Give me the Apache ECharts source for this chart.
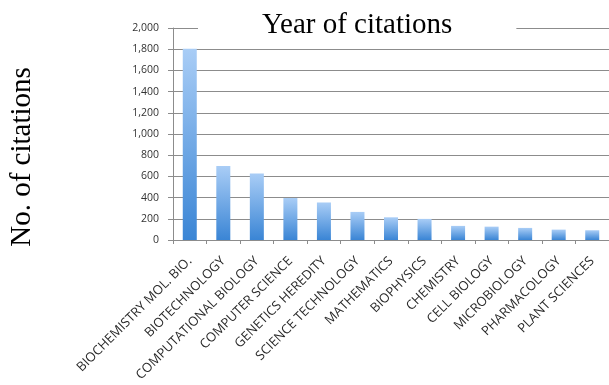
<!DOCTYPE html>
<html><head><meta charset="utf-8">
<script src="https://cdn.jsdelivr.net/npm/echarts@6/dist/echarts.min.js"></script>
<style>html,body{margin:0;padding:0;background:#fff}#c{width:609px;height:385px}</style>
</head><body><div id="c"></div>
<script>
const categories = ["BIOCHEMISTRY MOL. BIO.","BIOTECHNOLOGY","COMPUTATIONAL BIOLOGY","COMPUTER SCIENCE","GENETICS HEREDITY","SCIENCE TECHNOLOGY","MATHEMATICS","BIOPHYSICS","CHEMISTRY","CELL BIOLOGY","MICROBIOLOGY","PHARMACOLOGY","PLANT SCIENCES"];
const citations = [1805, 698, 628, 396, 354, 265, 214, 199, 133, 126, 114, 98, 92];
const yTitle = 'No. of citations';
const chartTitle = 'Year of citations';
const chart = echarts.init(document.getElementById('c'));
chart.setOption({
  animation:false,
  title:{text:chartTitle, left:198, top:9,
    backgroundColor:'#fff', padding:[2,64,2,64],
    textStyle:{fontFamily:'Liberation Serif', fontSize:29, fontWeight:'normal', color:'#000'}},
  graphic:[{type:'text', x:22, y:157, rotation:Math.PI/2,
    style:{text:yTitle, font:'29px "Liberation Serif"', fill:'#000', align:'center', verticalAlign:'middle'}}],
  grid:{left:173, right:-1, top:28, bottom:145},
  xAxis:{type:'category', data:categories,
    axisLine:{lineStyle:{color:'#8c8c8c', width:1}},
    axisTick:{show:true, alignWithLabel:false, length:4, lineStyle:{color:'#8c8c8c'}},
    axisLabel:{rotate:45, interval:0, fontFamily:'Open Sans', fontSize:13, color:'#2a2a2a', margin:19}},
  yAxis:{type:'value', min:0, max:2000, interval:200,
    axisLine:{show:true, lineStyle:{color:'#8c8c8c'}},
    axisTick:{show:true, length:5, lineStyle:{color:'#8c8c8c'}},
    splitLine:{lineStyle:{color:'#8c8c8c', width:1}},
    axisLabel:{fontFamily:'Open Sans', fontSize:10.5, color:'#333', margin:14,
      formatter:v=>v.toLocaleString('en-US')}},
  series:[{type:'bar', data:citations, barWidth:14,
    itemStyle:{color:new echarts.graphic.LinearGradient(0,0,0,1,[
      {offset:0,color:'#a9cdf6'},{offset:1,color:'#3a85d5'}])}}]
});
</script></body></html>
